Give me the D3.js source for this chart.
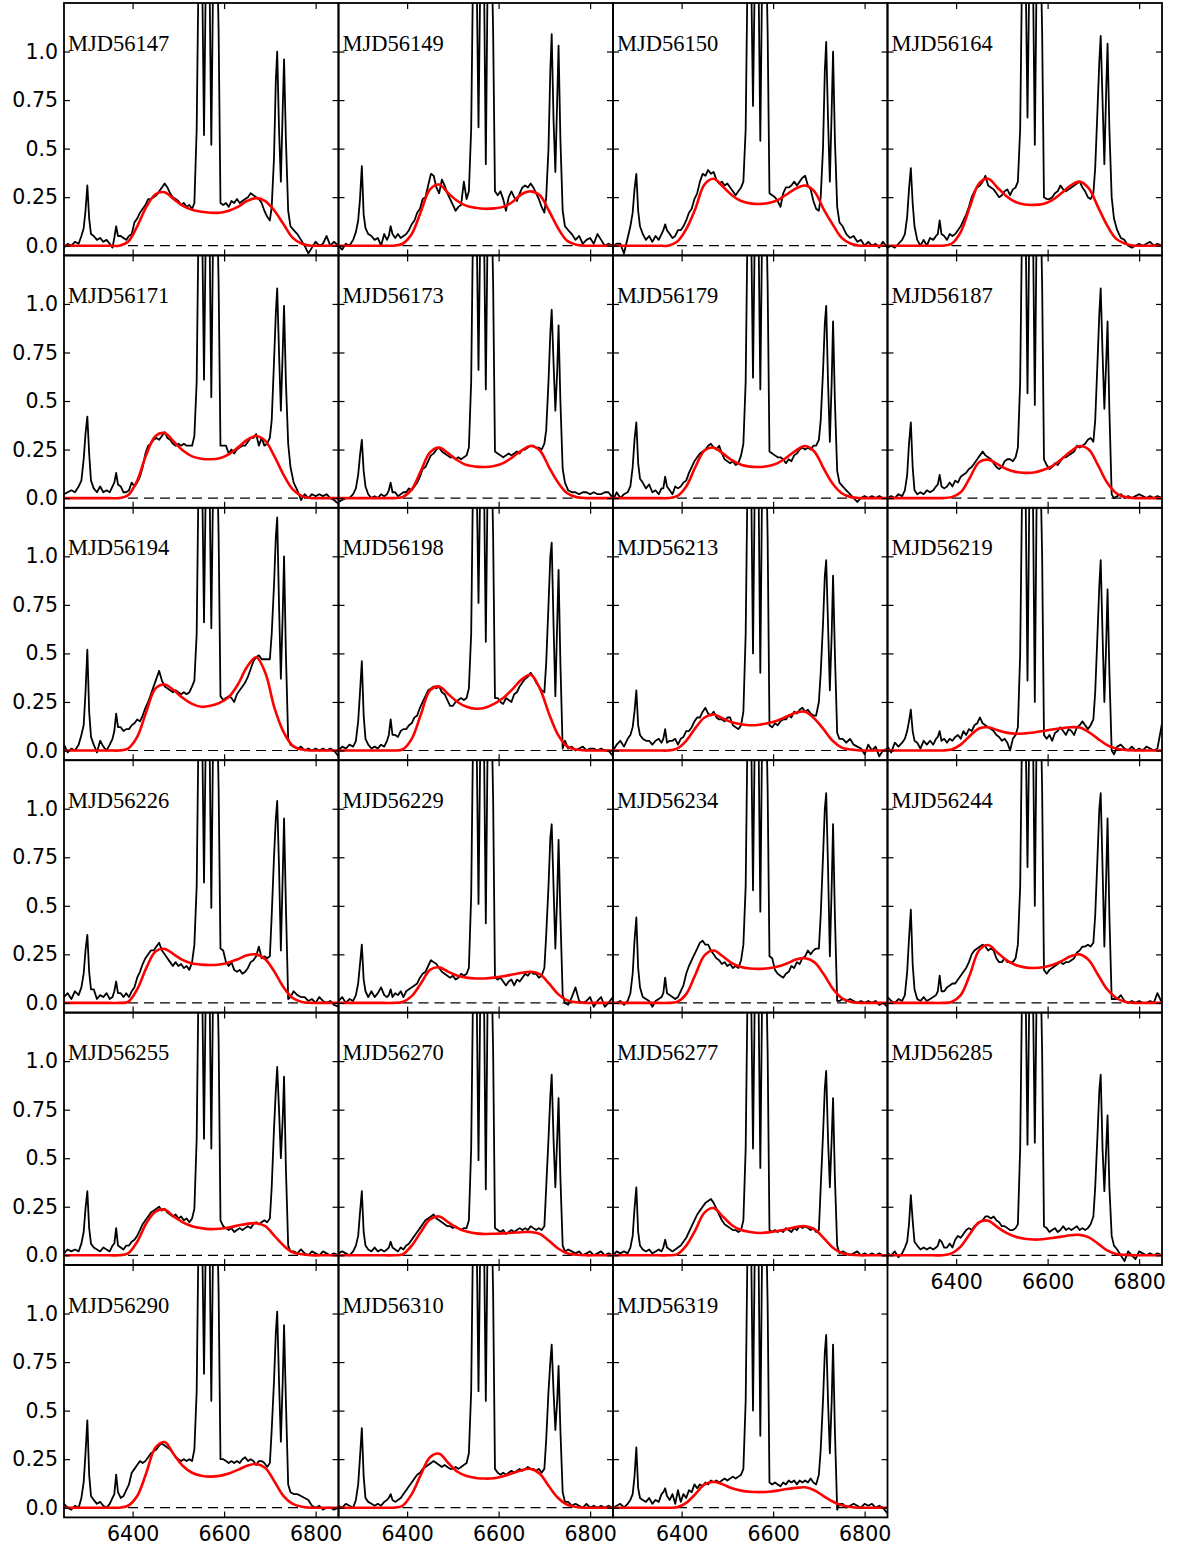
<!DOCTYPE html>
<html>
<head>
<meta charset="utf-8">
<script src="https://cdn.jsdelivr.net/npm/d3@7/dist/d3.min.js"></script>
<style>
  body { margin: 0; background: #fff; }
</style>
</head>
<body>
<div id="chart"></div>
<script>
// wavelength grid (Angstrom) shared by all spectra, denser around the narrow lines
const waves = [
  6250, 6258, 6266, 6274, 6282, 6288,
  6293, 6297, 6301, 6305, 6309,
  6315, 6322, 6329, 6336, 6343, 6350, 6356,
  6360, 6364, 6368,
  6374, 6380, 6386, 6392, 6398, 6404, 6410, 6416, 6422, 6428, 6434, 6440, 6446, 6452, 6458, 6464, 6470, 6476, 6482, 6488, 6494, 6500, 6506, 6512, 6518, 6524, 6530,
  6535, 6540, 6544, 6548, 6552, 6556, 6560, 6564, 6568, 6572, 6576, 6580, 6584, 6588, 6592,
  6598, 6604, 6610, 6616, 6622, 6628, 6634, 6640, 6646, 6652, 6658, 6664, 6670, 6676, 6682, 6688, 6694, 6700,
  6704, 6709, 6713, 6716, 6720, 6724, 6728, 6731, 6735, 6740, 6745,
  6752, 6760, 6768, 6776, 6784, 6792, 6800, 6808, 6816, 6824, 6832, 6840, 6850
];
const fitWaves = [6250, 6270, 6290, 6310, 6330, 6350, 6370, 6390, 6410, 6430, 6450, 6470, 6490, 6510, 6530, 6550,
  6570, 6590, 6610, 6630, 6650, 6670, 6690, 6710, 6730, 6750, 6770, 6790, 6810, 6830, 6850];

const yTicks = [0, 0.25, 0.5, 0.75, 1.0];
const yTickLabels = ['0.0', '0.25', '0.5', '0.75', '1.0'];
const xTicks = [6400, 6600, 6800];

// fluxes below are in units of 0.01
const flux56147 = [
  -1, 1, 0, 2, 1, 5,
  9, 18, 31, 14, 6,
  5, 3, 4, 2, 3, 1, -1,
  4, 10, 5,
  5, 4, 3, 5, 6, 12, 14, 17, 19, 21, 24, 24, 25, 26, 28, 30, 32, 30, 27, 25, 24, 23, 21, 22, 20, 21, 19,
  22, 60, 140, 200, 140, 57, 140, 250, 140, 52, 140, 200, 160, 110, 22,
  21, 22, 20, 23, 22, 24, 22, 23, 24, 25, 27, 26, 25, 24, 22, 18, 15, 13,
  20, 45, 85, 100, 60, 33, 70, 96, 55, 18, 10,
  8, 6, 3, 0, -4, -1, 2, 0, 1, 5, 0, 2, 0
];
const flux56149 = [
  0, -2, 1, 0, 3, 7,
  13, 24, 41, 16, 9,
  6, 5, 3, 4, 0, 6, 3,
  5, 10, 6,
  4, 6, 4, 5, 6, 8, 11, 13, 17, 19, 24, 25, 31, 37, 36, 30, 27, 34, 31, 27, 24, 21, 18, 20, 21, 33, 24,
  28, 60, 140, 200, 140, 61, 140, 250, 140, 42, 140, 200, 160, 110, 28,
  26, 28, 24, 18, 25, 28, 25, 23, 27, 30, 31, 30, 32, 30, 27, 24, 20, 17,
  25, 50, 90, 109, 65, 38, 75, 103, 55, 18, 10,
  8, 6, 3, 5, 1, 3, 4, 1, 6, 3, 0, 1, 0
];
const flux56150 = [
  0, 1, 1, -4, 4, 10,
  17, 29, 37, 18, 10,
  6, 3, 5, 2, 5, 3, 6,
  8, 11, 8,
  6, 4, 5, 8, 8, 10, 13, 17, 19, 24, 27, 33, 37, 36, 39, 37, 38, 34, 32, 33, 31, 32, 30, 28, 26, 28, 30,
  33, 60, 140, 200, 140, 72, 140, 250, 140, 54, 140, 200, 160, 110, 27,
  26, 25, 23, 20, 27, 30, 30, 31, 33, 31, 33, 35, 36, 31, 29, 23, 19, 18,
  25, 50, 90, 105, 65, 33, 70, 100, 55, 20, 12,
  10, 6, 4, 5, 2, 3, 0, 2, 0, 1, -1, 2, -1
];
const flux56164 = [
  -1, 0, -1, 1, 3, 6,
  15, 29, 40, 22, 10,
  3, 0, 3, 0, 4, 3, 5,
  6, 13, 6,
  5, 3, 6, 5, 6, 8, 10, 13, 16, 20, 25, 28, 30, 31, 33, 36, 31, 30, 29, 27, 25, 26, 28, 29, 26, 29, 30,
  33, 60, 140, 200, 140, 66, 140, 250, 140, 52, 140, 200, 160, 110, 25,
  24, 24, 25, 27, 28, 31, 29, 28, 29, 30, 31, 32, 33, 30, 28, 25, 24, 27,
  40, 70, 95, 108, 75, 42, 80, 104, 60, 25, 14,
  8, 4, 3, 0, -1, 0, 1, 0, 1, 2, 0, 1, 0
];
const flux56171 = [
  2, 3, 4, 3, 6, 9,
  20, 33, 42, 23, 9,
  5, 3, 6, 3, 4, 3, 6,
  8, 13, 7,
  6, 3, 3, 4, 8, 6, 8, 11, 16, 23, 27, 28, 30, 31, 30, 32, 34, 31, 30, 28, 27, 28, 27, 28, 27, 27, 27,
  32, 60, 140, 200, 140, 61, 140, 250, 140, 52, 140, 200, 160, 110, 27,
  27, 27, 23, 25, 23, 25, 26, 27, 27, 29, 31, 31, 33, 27, 31, 27, 28, 31,
  40, 70, 95, 108, 75, 45, 75, 99, 60, 28, 16,
  8, 4, -1, 2, 0, 2, 1, 2, 1, 2, 0, -1, -3
];
const flux56173 = [
  -2, -1, 0, 0, 2, 5,
  12, 22, 30, 14, 6,
  2, 0, 1, 0, 2, 1, 2,
  4, 8, 3,
  3, 1, 2, 3, 3, 5, 4, 6, 8, 11, 15, 16, 19, 22, 23, 25, 26, 24, 23, 22, 21, 21, 20, 21, 20, 21, 22,
  26, 60, 140, 200, 140, 66, 140, 250, 140, 56, 140, 200, 160, 110, 24,
  23, 22, 21, 22, 23, 22, 23, 24, 23, 25, 25, 26, 27, 27, 26, 26, 25, 28,
  35, 60, 85, 97, 70, 45, 65, 89, 50, 15, 8,
  4, 3, 3, 2, 3, 3, 2, 3, 2, 2, 3, 3, 0
];
const flux56179 = [
  -1, 3, 0, 2, 3, 6,
  16, 30, 39, 18, 10,
  8, 5, 7, 3, 4, 2, 5,
  5, 11, 6,
  4, 2, 6, 5, 6, 8, 9, 13, 16, 19, 21, 23, 24, 25, 27, 28, 26, 25, 27, 23, 20, 19, 18, 19, 17, 18, 22,
  28, 60, 140, 200, 140, 62, 140, 250, 140, 56, 140, 200, 160, 110, 24,
  23, 22, 21, 21, 20, 18, 20, 19, 22, 23, 25, 26, 25, 26, 25, 27, 27, 30,
  40, 65, 90, 99, 60, 29, 60, 91, 50, 14, 8,
  6, 4, 2, 0, -2, 0, 1, 0, 1, 0, 1, 0, 0
];
const flux56187 = [
  0, 1, 0, 2, 1, 4,
  12, 28, 39, 16, 4,
  2, 3, 2, 4, 3, 4, 6,
  7, 12, 6,
  5, 6, 8, 6, 9, 8, 11, 12, 13, 15, 16, 18, 20, 22, 24, 22, 21, 20, 18, 16, 15, 16, 19, 20, 20, 19, 21,
  26, 60, 140, 200, 140, 54, 140, 250, 140, 48, 140, 200, 160, 110, 20,
  17, 15, 16, 18, 17, 19, 21, 21, 22, 23, 24, 27, 26, 27, 28, 30, 31, 29,
  40, 70, 95, 108, 75, 46, 70, 91, 45, 2, 0,
  1, 2, 0, 1, 0, 1, 2, 1, 0, 1, 0, 1, 0
];
const flux56194 = [
  3, -1, 1, 0, 3, 8,
  13, 30, 52, 20, 7,
  3, -1, 5, 2, 0, 3, 6,
  10, 19, 12,
  12, 10, 11, 11, 13, 14, 16, 15, 18, 22, 25, 29, 33, 37, 41, 36, 33, 32, 31, 30, 31, 30, 29, 30, 29, 30, 33,
  36, 60, 140, 200, 140, 66, 140, 250, 140, 63, 140, 200, 160, 110, 28,
  26, 27, 28, 27, 25, 29, 31, 33, 35, 38, 42, 46, 48, 49, 47, 47, 47, 47,
  60, 85, 110, 120, 75, 37, 70, 100, 50, 6, 3,
  2, 1, 2, 0, 1, 0, 1, 0, 1, 0, 1, 0, -3
];
const flux56198 = [
  0, 2, 1, 3, 2, 5,
  15, 30, 46, 18, 6,
  3, 1, 2, 1, 3, 2, 5,
  8, 16, 8,
  8, 7, 10, 11, 11, 13, 14, 17, 18, 22, 25, 28, 31, 32, 33, 32, 33, 30, 29, 26, 23, 23, 25, 26, 27, 26, 27,
  32, 60, 140, 200, 140, 76, 140, 250, 140, 56, 140, 200, 160, 110, 27,
  27, 25, 24, 27, 26, 25, 29, 30, 33, 35, 37, 38, 40, 38, 35, 33, 31, 30,
  45, 75, 100, 107, 65, 28, 65, 93, 45, 1, 5,
  1, 2, 0, 1, 2, 0, 1, 1, 0, 1, 0, 0, -3
];
const flux56213 = [
  0, 3, 5, 2, 6, 8,
  12, 20, 31, 13, 8,
  6, 5, 5, 3, 5, 6, 4,
  6, 11, 4,
  5, 5, 6, 3, 6, 7, 10, 10, 12, 15, 17, 17, 20, 22, 19, 18, 20, 17, 16, 16, 15, 17, 17, 13, 12, 11, 13,
  20, 60, 140, 200, 140, 50, 140, 250, 140, 40, 140, 200, 160, 110, 13,
  12, 14, 13, 15, 16, 16, 18, 17, 20, 19, 21, 22, 20, 21, 19, 18, 18, 25,
  40, 65, 90, 98, 65, 31, 60, 90, 50, 9, 6,
  6, 4, 6, 3, 2, 1, -2, 3, 0, 2, -3, 0, 1
];
const flux56219 = [
  2, -1, 4, 2, 4, 6,
  10, 15, 21, 10, 5,
  4, 1, 5, 3, 5, 3, 6,
  7, 10, 5,
  6, 4, 6, 5, 7, 8, 6, 10, 8, 11, 10, 13, 14, 17, 14, 13, 12, 11, 10, 8, 7, 5, 6, 4, 0, 6, 8,
  12, 50, 130, 200, 130, 36, 130, 250, 130, 25, 130, 200, 150, 100, 8,
  6, 8, 5, 9, 10, 12, 10, 8, 11, 10, 8, 12, 13, 15, 13, 11, 13, 16,
  30, 60, 85, 98, 60, 25, 55, 83, 40, 0, -2,
  2, 3, 1, 0, 2, 0, 1, 0, 2, 1, 0, 1, 14
];
const flux56226 = [
  3, 5, 2, 6, 4, 8,
  15, 27, 35, 16, 7,
  7, 2, 4, 3, 5, 2, 3,
  6, 11, 5,
  5, 3, 5, 3, 6, 8, 13, 16, 20, 23, 25, 27, 27, 29, 31, 27, 25, 23, 21, 19, 21, 19, 20, 18, 19, 17, 21,
  30, 60, 140, 200, 140, 62, 140, 250, 140, 49, 140, 200, 160, 110, 28,
  27, 21, 19, 21, 17, 16, 17, 15, 16, 18, 21, 22, 24, 29, 23, 24, 23, 24,
  45, 75, 95, 104, 70, 27, 65, 95, 50, 2, 3,
  6, 4, 3, 3, 1, 2, 0, 3, 1, 0, 1, -1, -2
];
const flux56229 = [
  1, 3, 0, 2, 1, 4,
  10, 20, 30, 12, 6,
  3, 6, 3, 5, 8, 4, 3,
  4, 7, 3,
  5, 4, 6, 3, 6, 7, 8, 9, 10, 13, 15, 16, 19, 22, 21, 20, 18, 16, 15, 14, 13, 14, 12, 13, 15, 14, 15,
  18, 55, 135, 200, 135, 51, 135, 250, 135, 41, 135, 200, 155, 105, 13,
  12, 13, 11, 9, 11, 12, 9, 12, 11, 13, 15, 14, 16, 15, 15, 13, 14, 18,
  35, 60, 85, 92, 60, 28, 55, 84, 45, 4, 0,
  -1, 3, 8, 1, 0, 1, 3, -2, 1, 3, -2, 0, 3
];
const flux56234 = [
  0, 0, 1, -1, 1, 5,
  15, 32, 44, 18, 8,
  3, 2, 1, -2, 1, 2, 3,
  5, 13, 5,
  4, 3, 2, 3, 6, 9, 15, 19, 22, 25, 28, 31, 32, 30, 30, 27, 25, 23, 22, 20, 21, 19, 20, 18, 19, 18, 22,
  30, 60, 140, 200, 140, 58, 140, 250, 140, 47, 140, 200, 160, 110, 24,
  23, 17, 15, 14, 13, 15, 16, 19, 18, 21, 20, 23, 24, 27, 25, 27, 28, 28,
  45, 75, 100, 108, 70, 24, 60, 92, 45, 1, 1,
  2, 1, 2, 1, 0, 1, 0, 1, 0, 1, -1, 0, -2
];
const flux56244 = [
  3, 1, 0, 2, 1, 4,
  16, 33, 48, 20, 7,
  2, 1, 3, 1, 2, 3, 4,
  6, 14, 6,
  6, 8, 9, 10, 10, 12, 14, 16, 18, 21, 25, 27, 28, 29, 30, 29, 27, 28, 27, 23, 21, 21, 23, 21, 21, 21, 23,
  30, 60, 140, 200, 140, 70, 140, 250, 140, 50, 140, 200, 160, 110, 17,
  15, 17, 18, 19, 20, 21, 20, 21, 21, 22, 23, 26, 27, 29, 29, 30, 29, 31,
  45, 75, 100, 108, 70, 29, 65, 95, 45, 2, 2,
  2, 4, 1, 0, 1, 0, 1, 0, 0, 1, 0, 5, 0
];
const flux56255 = [
  1, 3, 2, 3, 2, 6,
  12, 24, 33, 14, 6,
  4, 3, 2, 4, 3, 2, 5,
  6, 14, 5,
  4, 3, 5, 5, 7, 8, 10, 13, 16, 18, 20, 22, 23, 24, 25, 23, 24, 22, 21, 20, 21, 19, 20, 18, 19, 17, 19,
  24, 60, 140, 200, 140, 60, 140, 250, 140, 55, 140, 200, 160, 110, 18,
  15, 14, 13, 14, 12, 13, 14, 13, 14, 15, 14, 16, 17, 16, 17, 18, 17, 19,
  35, 65, 85, 97, 75, 50, 70, 92, 45, 5, 2,
  2, 1, 3, 1, 0, 2, 1, 0, 2, 1, 0, 1, 0
];
const flux56270 = [
  1, 2, 1, 0, 2, 5,
  10, 22, 33, 12, 5,
  3, 2, 4, 2, 3, 2, 3,
  4, 7, 4,
  3, 2, 4, 3, 5, 6, 8, 10, 12, 14, 16, 18, 19, 20, 21, 19, 18, 17, 16, 15, 15, 14, 15, 14, 13, 14, 14,
  18, 55, 135, 200, 135, 49, 135, 250, 135, 34, 135, 200, 155, 105, 14,
  13, 12, 13, 11, 12, 13, 12, 13, 14, 13, 14, 13, 15, 14, 13, 14, 13, 15,
  35, 60, 82, 93, 60, 35, 60, 81, 40, 5, 2,
  3, 2, 1, 2, 0, 1, 2, 0, 1, 2, 0, 1, 0
];
const flux56277 = [
  0, 2, 1, 2, 1, 4,
  10, 24, 35, 12, 5,
  3, 2, 3, 1, 2, 3, 2,
  4, 8, 4,
  3, 2, 3, 4, 5, 7, 9, 12, 15, 18, 21, 23, 25, 27, 28, 29, 27, 24, 21, 18, 16, 15, 14, 13, 13, 12, 13,
  18, 55, 135, 200, 135, 55, 135, 250, 135, 45, 135, 200, 155, 105, 13,
  12, 13, 12, 13, 12, 14, 13, 12, 14, 13, 15, 14, 15, 14, 13, 14, 12, 13,
  35, 62, 86, 95, 60, 35, 60, 81, 40, 5, 1,
  2, 1, 0, 1, 2, 0, 1, 0, 1, 0, 1, 0, 0
];
const flux56285 = [
  1, 0, 2, -1, 1, 4,
  7, 16, 31, 18, 7,
  5, 3, 4, 3, 4, 3, 4,
  5, 8, 7,
  4, 4, 6, 4, 8, 10, 9, 11, 13, 14, 13, 15, 16, 17, 18, 20, 20, 19, 20, 18, 17, 15, 15, 14, 13, 13, 14,
  16, 55, 135, 200, 135, 57, 135, 250, 135, 58, 135, 200, 155, 105, 15,
  14, 12, 13, 14, 12, 13, 15, 13, 14, 13, 14, 15, 13, 14, 13, 14, 16, 20,
  35, 62, 85, 93, 55, 33, 55, 72, 35, 10, 5,
  3, 0, -3, 2, 0, -2, 2, 1, 0, 1, 0, 1, 0
];
const flux56290 = [
  2, 0, -1, 1, 0, 5,
  13, 28, 45, 17, 6,
  4, 2, 3, 1, 0, 2, 5,
  7, 17, 8,
  5, 6, 9, 12, 18, 20, 22, 24, 23, 24, 26, 28, 29, 30, 32, 33, 32, 31, 30, 28, 26, 25, 24, 25, 24, 25, 24,
  30, 60, 140, 200, 140, 69, 140, 250, 140, 55, 140, 200, 160, 110, 25,
  25, 24, 23, 24, 23, 24, 23, 25, 26, 24, 25, 24, 22, 24, 24, 23, 21, 23,
  40, 65, 90, 101, 65, 34, 65, 94, 55, 12, 8,
  7, 7, 6, 5, 4, 1, 0, 1, -1, 0, 0, -1, 0
];
const flux56310 = [
  1, 0, 2, 1, 0, 4,
  12, 26, 41, 16, 5,
  3, 2, 1, 2, 1, 3, 4,
  5, 7, 4,
  3, 4, 5, 7, 9, 11, 13, 15, 17, 18, 20, 21, 22, 23, 24, 23, 22, 21, 22, 21, 20, 20, 21, 20, 21, 22, 23,
  28, 60, 140, 200, 140, 60, 140, 250, 140, 55, 140, 200, 160, 110, 20,
  18, 17, 18, 17, 18, 19, 18, 19, 20, 19, 20, 21, 20, 20, 19, 20, 18, 20,
  35, 60, 75, 84, 60, 40, 55, 73, 40, 8, 3,
  3, 1, 2, 1, 0, 2, 0, 1, 0, 1, 0, 1, 0
];
const flux56319 = [
  0, 1, 2, 0, 2, 4,
  7, 16, 31, 10, 5,
  4, 3, 5, 2, 4, 3, 7,
  8, 10, 6,
  4, 7, 2, 9, 3, 7, 5, 9, 8, 12, 10, 12, 11, 13, 12, 14, 13, 14, 13, 14, 15, 14, 15, 16, 15, 16, 17,
  20, 55, 135, 200, 135, 50, 135, 250, 135, 37, 135, 200, 155, 105, 13,
  12, 13, 12, 11, 13, 12, 14, 13, 14, 12, 14, 13, 14, 13, 15, 13, 12, 17,
  30, 55, 80, 89, 55, 28, 55, 84, 40, -1, 2,
  2, 0, 1, 2, 1, 0, 2, 1, 2, 0, 1, 0, -3
];

// broad double-peaked fits, read at fitWaves (units of 0.01)
const fit56147 = [0, 0, 0, 0, 0, 0, 0, 2, 10, 20, 26.5, 27.5, 24, 20.5, 18.5, 17.5, 17, 17, 18, 20, 23, 24.5, 23, 18, 11, 4, 1, 0, 0, 0, 0];
const fit56149 = [0, 0, 0, 0, 0, 0, 0, 1, 6, 17.5, 29, 31.5, 27, 23, 20.5, 19.5, 19, 19.2, 20, 22.5, 26.5, 28, 26, 18, 9, 2.5, 0.5, 0, 0, 0, 0];
const fit56150 = [0, 0, 0, 0, 0, 0, 0, 2, 8.5, 19, 31.5, 34.5, 30.5, 26, 23, 21.8, 21.5, 22, 23.5, 26.5, 29.5, 31, 28, 19, 11, 4, 1, 0, 0, 0, 0];
const fit56164 = [0, 0, 0, 0, 0, 0, 0, 1, 7, 20, 32, 34.5, 30, 25.5, 22.5, 21.2, 21, 21.5, 23.5, 27, 31, 33, 29.5, 20, 10.5, 3.5, 1, 0, 0, 0, 0];
const fit56171 = [0, 0, 0, 0, 0, 0, 0, 1.5, 9, 22.5, 32, 33.5, 29, 24.5, 21.5, 20.3, 20, 20.5, 22.5, 26, 30, 32, 29.5, 21.5, 12, 4.5, 1, 0, 0, 0, 0];
const fit56173 = [0, 0, 0, 0, 0, 0, 0, 0.5, 4.5, 14, 23.5, 26, 23, 19.5, 17, 16.2, 16, 16.5, 18, 21, 24.5, 26.8, 24.5, 16, 8, 2.5, 0.5, 0, 0, 0, 0];
const fit56179 = [0, 0, 0, 0, 0, 0, 0, 1, 6, 16, 24.5, 26, 23, 19.5, 17.2, 16.2, 16, 16.5, 18, 21, 24.5, 26.8, 24, 15.5, 7.5, 2.5, 0.5, 0, 0, 0, 0];
const fit56187 = [0, 0, 0, 0, 0, 0, 0, 0.5, 3, 10.5, 18.5, 19.8, 17.5, 15, 13.5, 13, 13.2, 14.5, 16.5, 20, 24, 26.8, 25, 17, 8, 2.5, 0.5, 0, 0, 0, 0];
const fit56194 = [0, 0, 0, 0, 0, 0, 0, 1, 7, 20, 32, 34, 31, 27, 24, 22.5, 23, 24.5, 27.5, 34, 43, 48, 40, 22, 9.5, 2.5, 0.5, 0, 0, 0, 0];
const fit56198 = [0, 0, 0, 0, 0, 0, 0, 0.5, 6, 18.5, 31, 33, 29, 25, 22.5, 21.5, 22, 24, 27, 31.5, 36.5, 39, 32, 19, 8, 2, 0.5, 0, 0, 0, 0];
const fit56213 = [0, 0, 0, 0, 0, 0, 0, 1, 5, 11.5, 17, 18.5, 16.5, 14.5, 13.5, 13, 13.3, 14.2, 15.5, 17.5, 19.5, 20, 16.5, 11, 5, 1.5, 0.5, 0, 0, 0, 0];
const fit56219 = [0, 0, 0, 0, 0, 0, 0, 0.5, 3, 7.5, 11.3, 12, 10.5, 9.2, 8.6, 8.8, 9.3, 10, 10.8, 11.5, 12, 11.8, 9.5, 6, 2.8, 1, 0.3, 0, 0, 0, 0];
const fit56226 = [0, 0, 0, 0, 0, 0, 0, 0.5, 7, 18, 26.5, 27.8, 25, 22, 20.3, 19.7, 19.5, 19.8, 20.8, 22.5, 24.5, 25, 22.5, 16, 8, 2.5, 0.5, 0, 0, 0, 0];
const fit56229 = [0, 0, 0, 0, 0, 0, 0, 0.5, 3.5, 10, 17, 18.3, 16, 14, 13, 12.6, 12.6, 13, 13.7, 14.6, 15.5, 16, 14.8, 10, 4.5, 1.3, 0.3, 0, 0, 0, 0];
const fit56234 = [0, 0, 0, 0, 0, 0, 0, 0.5, 4.5, 14.5, 24.5, 27, 24, 20.5, 18.5, 17.7, 17.5, 17.8, 18.7, 20.3, 22.3, 23, 21, 15, 7.5, 2.5, 0.5, 0, 0, 0, 0];
const fit56244 = [0, 0, 0, 0, 0, 0, 0, 0.5, 4, 14.5, 27, 29.8, 26, 22, 19.5, 18.3, 18, 18.4, 19.5, 21.5, 24, 25, 22, 14.5, 7, 2.5, 0.5, 0, 0, 0, 0];
const fit56255 = [0, 0, 0, 0, 0, 0, 0, 1, 7, 16.5, 22.5, 23.5, 20, 17, 15, 14, 13.5, 13.7, 14.3, 15.3, 16.2, 16.5, 15, 10, 5, 1.5, 0.5, 0, 0, 0, 0];
const fit56270 = [0, 0, 0, 0, 0, 0, 0, 0.5, 5, 12, 18.5, 20, 17, 14, 12.2, 11.3, 11, 11.1, 11.3, 11.6, 11.9, 12, 11, 7.5, 3.5, 1, 0.3, 0, 0, 0, 0];
const fit56277 = [0, 0, 0, 0, 0, 0, 0, 0.5, 5, 13, 22, 24.3, 20, 15.5, 13, 12, 11.5, 11.8, 12.5, 13.5, 14.6, 15, 13.5, 9, 4, 1.2, 0.3, 0, 0, 0, 0];
const fit56285 = [0, 0, 0, 0, 0, 0, 0, 1, 4.5, 11, 17, 17.8, 14.5, 11.5, 9.5, 8.5, 8.1, 8.3, 8.9, 9.6, 10.3, 10.5, 9.2, 6, 2.5, 0.7, 0.2, 0, 0, 0, 0];
const fit56290 = [0, 0, 0, 0, 0, 0, 0, 1, 6, 18, 31, 33.8, 27.5, 21.5, 18, 16.5, 16, 16.4, 17.6, 19.5, 21.6, 22.5, 20.5, 13.5, 6, 2, 0.5, 0, 0, 0, 0];
const fit56310 = [0, 0, 0, 0, 0, 0, 0, 1, 7, 17, 26, 27.8, 23, 18.5, 16.3, 15.3, 15, 15.2, 16.2, 17.7, 19.3, 20, 17.5, 11, 5, 1.5, 0.4, 0, 0, 0, 0];
const fit56319 = [0, 0, 0, 0, 0, 0, 0, 0.2, 2.5, 7, 12, 13.4, 12, 10, 8.8, 8.2, 8, 8.2, 8.8, 9.6, 10.2, 10.5, 9, 6, 3.2, 1.2, 0.4, 0, 0, 0, 0];

const panels = [
  { mjd: '56147', flux: flux56147, fit: fit56147 },
  { mjd: '56149', flux: flux56149, fit: fit56149 },
  { mjd: '56150', flux: flux56150, fit: fit56150 },
  { mjd: '56164', flux: flux56164, fit: fit56164 },
  { mjd: '56171', flux: flux56171, fit: fit56171 },
  { mjd: '56173', flux: flux56173, fit: fit56173 },
  { mjd: '56179', flux: flux56179, fit: fit56179 },
  { mjd: '56187', flux: flux56187, fit: fit56187 },
  { mjd: '56194', flux: flux56194, fit: fit56194 },
  { mjd: '56198', flux: flux56198, fit: fit56198 },
  { mjd: '56213', flux: flux56213, fit: fit56213 },
  { mjd: '56219', flux: flux56219, fit: fit56219 },
  { mjd: '56226', flux: flux56226, fit: fit56226 },
  { mjd: '56229', flux: flux56229, fit: fit56229 },
  { mjd: '56234', flux: flux56234, fit: fit56234 },
  { mjd: '56244', flux: flux56244, fit: fit56244 },
  { mjd: '56255', flux: flux56255, fit: fit56255 },
  { mjd: '56270', flux: flux56270, fit: fit56270 },
  { mjd: '56277', flux: flux56277, fit: fit56277 },
  { mjd: '56285', flux: flux56285, fit: fit56285 },
  { mjd: '56290', flux: flux56290, fit: fit56290 },
  { mjd: '56310', flux: flux56310, fit: fit56310 },
  { mjd: '56319', flux: flux56319, fit: fit56319 }
];


const nCols = 4;
const panelW = 274.5, panelH = 252.4;
const gridLeft = 64, gridTop = 3;
const tickFont = '"DejaVu Sans", sans-serif';

const x = d3.scaleLinear().domain([6250, 6850]).range([0, panelW]);
const y = d3.scaleLinear().domain([-0.05, 1.25]).range([panelH, 0]);

const specLine = d3.line()
      .x(d => x(d[0]))
      .y(d => y(d[1] / 100));
const fitLine = d3.line()
      .x(d => x(d[0]))
      .y(d => y(d[1] / 100))
      .curve(d3.curveCatmullRom.alpha(0.5));

const svg = d3.select('#chart')
      .append('svg')
      .attr('width', 1179)
      .attr('height', 1546);

const styleAxis = (g) => {
  g.select('.domain').remove();
  g.selectAll('.tick line').attr('stroke', '#000').attr('stroke-width', 1.2);
  g.selectAll('.tick text')
    .attr('fill', '#000')
    .attr('font-family', tickFont)
    .attr('font-size', 20.5);
};

panels.forEach((p, i) => {
  if (p.flux.length !== waves.length) throw new Error(`flux ${p.mjd}: ${p.flux.length}`);
  if (p.fit.length !== fitWaves.length) throw new Error(`fit ${p.mjd}: ${p.fit.length}`);

  const col = i % nCols, row = Math.floor(i / nCols);
  const showX = i >= panels.length - nCols;
  const showY = col === 0;

  const g = svg.append('g')
        .attr('transform', `translate(${gridLeft + col * panelW}, ${gridTop + row * panelH})`);

  g.append('clipPath').attr('id', `clip${i}`)
    .append('rect').attr('width', panelW).attr('height', panelH);

  const plot = g.append('g').attr('clip-path', `url(#clip${i})`);

  plot.append('line')
    .attr('x1', x(6250)).attr('x2', x(6850))
    .attr('y1', y(0)).attr('y2', y(0))
    .attr('stroke', '#000')
    .attr('stroke-width', 1.2)
    .attr('stroke-dasharray', '10,6');

  plot.append('path')
    .datum(d3.zip(waves, p.flux))
    .attr('d', specLine)
    .attr('fill', 'none')
    .attr('stroke', '#000')
    .attr('stroke-width', 1.8)
    .attr('stroke-linejoin', 'round');

  plot.append('path')
    .datum(d3.zip(fitWaves, p.fit))
    .attr('d', fitLine)
    .attr('fill', 'none')
    .attr('stroke', '#ff0000')
    .attr('stroke-width', 2.6);

  g.append('text')
    .attr('x', 4)
    .attr('y', 47.5)
    .attr('font-family', '"Liberation Serif", serif')
    .attr('font-size', 22.5)
    .attr('fill', '#000')
    .text(`MJD${p.mjd}`);

  g.append('g')
    .call(d3.axisLeft(y).tickValues(yTicks).tickSize(-6).tickPadding(6)
          .tickFormat((d, k) => showY ? yTickLabels[k] : ''))
    .call(styleAxis);
  g.append('g')
    .attr('transform', `translate(${panelW}, 0)`)
    .call(d3.axisRight(y).tickValues(yTicks).tickSize(-6).tickFormat(''))
    .call(styleAxis);
  g.append('g')
    .attr('transform', `translate(0, ${panelH})`)
    .call(d3.axisBottom(x).tickValues(xTicks).tickSize(-6).tickPadding(9)
          .tickFormat(d => showX ? d3.format('d')(d) : ''))
    .call(styleAxis);
  g.append('g')
    .call(d3.axisTop(x).tickValues(xTicks).tickSize(-6).tickFormat(''))
    .call(styleAxis);

  g.append('rect')
    .attr('width', panelW)
    .attr('height', panelH)
    .attr('fill', 'none')
    .attr('stroke', '#000')
    .attr('stroke-width', 1.8);
});
</script>
</body>
</html>
